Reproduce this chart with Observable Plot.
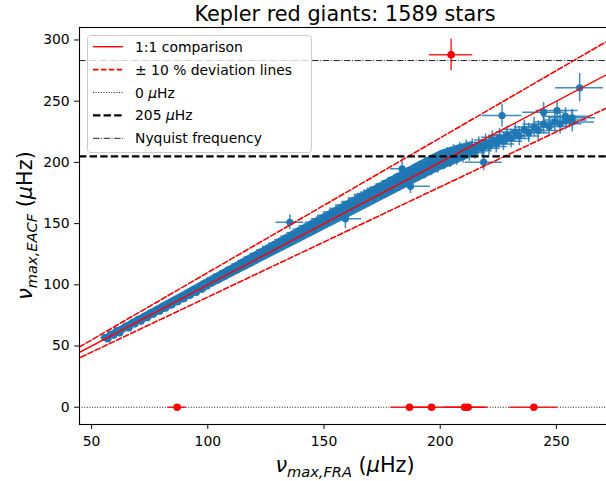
<!DOCTYPE html>
<html>
<head>
<meta charset="utf-8">
<script src="https://cdn.jsdelivr.net/npm/d3@7"></script>
<script src="https://cdn.jsdelivr.net/npm/@observablehq/plot@0.6"></script>
<style>
  html, body { margin: 0; padding: 0; background: #fff; overflow: hidden; }
  #chart { width: 606px; height: 481px; overflow: hidden; }
  #chart svg { max-width: none !important; width: 611px !important; height: 481px !important; overflow: hidden; }
</style>
</head>
<body>
<div id="chart"></div>
<script>
// nu_max from the FRA pipeline (x) and from EACF (y), with 1-sigma errors, in µHz
const starFRA = [
  55.6, 57.0, 58.2, 59.5, 60.8, 62.1, 63.3, 64.7, 66.0, 67.4, 68.6, 70.0, 71.3, 72.7, 74.0, 75.2, 76.6, 78.0, 79.3, 80.5,
  81.9, 83.2, 84.6, 85.8, 87.1, 88.5, 89.8, 91.2, 92.5, 93.7, 95.1, 96.4, 97.8, 99.1,
  100.5, 101.8, 103.2, 104.6, 105.9, 107.3, 108.7, 110.0, 111.4, 112.8, 114.1, 115.5, 116.9, 118.2, 119.6, 121.0,
  122.3, 123.7, 125.1, 126.4, 127.8, 129.2, 130.5, 131.9, 133.3, 134.6, 136.0, 137.4, 138.7, 140.1, 141.5, 142.8,
  144.2, 145.6, 146.9, 148.3, 149.7, 151.0, 152.4, 153.8, 155.1, 156.5, 157.9, 159.2, 160.6, 162.0, 163.3, 164.7,
  166.1, 167.4, 168.8,
  170.2, 171.5, 172.9, 174.3, 175.6, 177.0, 178.4, 179.7, 181.1, 182.5, 183.8, 185.2, 186.6, 187.9, 189.3, 190.7,
  192.0, 193.4, 194.8, 196.1, 197.5, 198.9, 200.2, 201.6, 203.0, 204.3, 205.7, 207.1, 208.4, 209.8, 211.2, 212.5,
  213.8, 215.0, 216.6, 218.1, 219.5, 221.0, 222.4, 224.1, 225.5, 227.2, 228.8, 230.5, 232.3, 234.0, 236.2, 238.1,
  240.4, 242.2, 244.5, 246.9, 249.3, 251.6, 254.0, 256.8,
  135.3, 159.2, 183.6, 187.2, 218.7, 226.6, 244.5, 250.3, 253.9, 256.8, 260.0
];
const starEACF = [
  56.9, 55.8, 59.7, 58.9, 62.6, 60.7, 63.9, 66.3, 64.8, 69.0, 67.9, 71.8, 70.2, 74.1, 73.1, 77.0, 75.9, 79.6, 78.4, 82.3,
  81.0, 84.9, 83.7, 87.5, 86.2, 90.1, 88.9, 92.8, 91.6, 95.6, 94.0, 98.1, 96.9, 100.6,
  102.9, 101.6, 105.8, 104.2, 108.6, 107.0, 111.3, 109.8, 114.2, 112.7, 117.0, 115.4, 119.9, 118.3, 122.8, 121.1,
  125.6, 124.0, 128.5, 126.8, 131.3, 129.7, 134.1, 132.5, 137.0, 135.3, 139.8, 138.2, 142.6, 141.0, 145.5, 143.9,
  148.3, 146.7, 151.1, 149.6, 154.0, 152.4, 156.8, 155.3, 159.7, 158.1, 162.5, 160.9, 165.3, 163.8, 168.1, 166.6,
  171.0, 169.4, 173.8,
  174.6, 171.9, 177.2, 174.8, 179.5, 177.4, 182.3, 180.1, 184.9, 182.6, 187.6, 185.4, 190.1, 188.0, 192.8, 190.9,
  195.3, 193.1, 197.9, 195.7, 200.6, 198.0, 203.2, 200.5, 205.6, 202.7, 207.9, 204.6, 209.8, 206.4, 211.5, 208.0,
  212.3, 209.6, 214.0, 211.5, 216.2, 213.0, 218.4, 215.1, 220.5, 217.3, 222.1, 219.6, 224.8, 221.5, 226.9, 224.2,
  229.0, 226.0, 231.2, 229.4, 233.0, 231.5, 234.6, 233.1,
  151.1, 153.9, 194.8, 180.5, 200.2, 238.3, 241.0, 242.4, 237.7, 236.4, 261.0
];
const starFRAErr = [
  1.6, 1.8, 1.5, 2.0, 1.7, 1.9, 2.1, 1.8, 2.2, 2.0, 1.9, 2.3, 2.1, 2.4, 2.2, 2.6, 2.3, 2.5, 2.7, 2.4,
  2.8, 2.6, 2.9, 2.7, 3.0, 2.8, 3.1, 2.9, 3.2, 3.0, 3.3, 3.1, 3.4, 3.2,
  3.3, 3.0, 3.4, 3.1, 3.5, 3.2, 3.6, 3.3, 3.7, 3.4, 3.8, 3.5, 3.9, 3.6, 4.0, 3.7,
  4.1, 3.8, 4.2, 3.9, 4.3, 4.0, 4.4, 4.1, 4.5, 4.2, 4.6, 4.3, 4.7, 4.4, 4.8, 4.5,
  4.9, 4.6, 5.0, 4.7, 5.1, 4.8, 5.2, 4.9, 5.3, 5.0, 5.4, 5.1, 5.5, 5.2, 5.6, 5.3,
  5.7, 5.4, 5.8,
  5.8, 5.5, 5.9, 5.6, 6.0, 5.7, 6.1, 5.8, 6.2, 5.9, 6.3, 6.0, 6.4, 6.1, 6.5, 6.2,
  6.6, 6.3, 6.7, 6.4, 6.8, 6.5, 6.9, 6.6, 7.0, 6.7, 7.1, 6.8, 7.2, 6.9, 7.3, 7.0,
  7.2, 7.4, 7.3, 7.6, 7.5, 7.8, 7.6, 8.0, 7.8, 8.2, 8.0, 8.4, 8.2, 8.6, 8.4, 8.8,
  8.6, 9.0, 8.8, 9.2, 9.0, 9.4, 9.2, 9.6,
  6.0, 7.0, 5.0, 8.6, 8.0, 8.6, 9.0, 9.0, 10.0, 10.0, 10.3
];
const starEACFErr = [
  1.5, 1.7, 1.6, 1.9, 1.8, 2.0, 1.9, 2.1, 2.2, 2.0, 2.3, 2.1, 2.4, 2.2, 2.5, 2.3, 2.6, 2.4, 2.7, 2.5,
  2.8, 2.6, 2.9, 2.7, 3.0, 2.8, 3.1, 2.9, 3.2, 3.0, 3.3, 3.1, 3.4, 3.2,
  3.0, 3.2, 2.9, 3.3, 3.1, 3.4, 3.2, 3.5, 3.3, 3.6, 3.4, 3.7, 3.5, 3.8, 3.6, 3.9,
  3.7, 4.0, 3.8, 4.1, 3.9, 4.2, 4.0, 4.3, 4.1, 4.4, 4.2, 4.5, 4.3, 4.6, 4.4, 4.7,
  4.5, 4.8, 4.6, 4.9, 4.7, 5.0, 4.8, 5.1, 4.9, 5.2, 5.0, 5.3, 5.1, 5.4, 5.2, 5.5,
  5.3, 5.6, 5.4,
  5.3, 5.6, 5.4, 5.7, 5.5, 5.8, 5.6, 5.9, 5.7, 6.0, 5.8, 6.1, 5.9, 6.2, 6.0, 6.3,
  6.1, 6.4, 6.2, 6.5, 6.3, 6.6, 6.4, 6.7, 6.5, 6.8, 6.6, 6.9, 6.7, 7.0, 6.8, 7.1,
  6.9, 7.1, 7.0, 7.3, 7.1, 7.4, 7.2, 7.5, 7.3, 7.6, 7.4, 7.7, 7.5, 7.8, 7.6, 7.9,
  7.7, 8.0, 7.8, 8.1, 7.9, 8.2, 8.0, 8.3,
  6.0, 8.0, 8.0, 6.0, 7.0, 9.5, 8.0, 8.0, 7.0, 7.0, 11.6
];

// Outline of the densely packed part of the sample, where the error bars merge
const denseFRA  = [55.5, 60, 70, 80, 90, 100, 110, 120, 130, 140, 150, 160, 170, 180, 190, 200, 208, 214];
const denseLow  = [53.6, 57.2, 67.0, 76.6, 86.4, 96.0, 105.8, 115.4, 125.2, 134.8, 144.6, 154.2, 164.0, 173.8, 183.6, 193.2, 199.5, 204.5];
const denseHigh = [58.4, 63.6, 74.2, 84.6, 95.0, 105.6, 116.0, 126.6, 137.0, 147.6, 158.0, 168.6, 179.0, 189.4, 199.8, 209.6, 214.5, 217.0];

// Stars flagged by the comparison (no EACF detection, or above Nyquist)
const flagFRA = [86.8, 186.8, 196.3, 210.5, 212.0, 240.3, 204.7];
const flagEACF = [0, 0, 0, 0, 0, 0, 287.9];
const flagFRAErr = [4.0, 8.0, 7.5, 9.0, 8.6, 10.3, 9.3];
const flagEACFErr = [0, 0, 0, 0, 0, 0, 12.8];

// Reference levels (µHz)
const zeroLevel = 0;
const cutLevel = 205;
const nyquistLevel = 283.2;
const guideFRA = [30, 300];

const xTicks = [50, 100, 150, 200, 250];
const yTicks = [0, 50, 100, 150, 200, 250, 300];

const blue = "#1f77b4";
const red = "#ff0000";

const stars = starFRA.map((x, i) => ({fra: x, eacf: starEACF[i], ex: starFRAErr[i], ey: starEACFErr[i]}));
const dense = denseFRA.map((x, i) => ({fra: x, lo: denseLow[i], hi: denseHigh[i]}));
const flagged = flagFRA.map((x, i) => ({fra: x, eacf: flagEACF[i], ex: flagFRAErr[i], ey: flagEACFErr[i]}));

const font = "DejaVu Sans, Verdana, sans-serif";
const dashRed = "5.5,2.4";

const chart = Plot.plot({
  width: 611,
  height: 481,
  marginLeft: 79,
  marginRight: 0,
  marginTop: 27,
  marginBottom: 57,
  style: {fontFamily: font, fontSize: "13.9px", color: "#000", background: "#fff"},
  x: {domain: [44.8, 273.7]},
  y: {domain: [-14.1, 310.2]},
  marks: [
    // merged error bars of the bulk of the sample
    Plot.areaY(dense, {x: "fra", y1: "lo", y2: "hi", fill: blue, fillOpacity: 0.95, clip: true}),

    // error bars and points of the accepted stars
    Plot.ruleY(stars, {y: "eacf", x1: d => d.fra - d.ex, x2: d => d.fra + d.ex, stroke: blue, strokeWidth: 1.5, strokeOpacity: 0.85, clip: true}),
    Plot.ruleX(stars, {x: "fra", y1: d => d.eacf - d.ey, y2: d => d.eacf + d.ey, stroke: blue, strokeWidth: 1.5, strokeOpacity: 0.85, clip: true}),
    Plot.dot(stars, {x: "fra", y: "eacf", r: 3.6, fill: blue, stroke: "none", clip: true}),

    // 1:1 and ±10 % guide lines
    Plot.line(guideFRA, {x: d => d, y: d => d, stroke: red, strokeWidth: 1.4, clip: true}),
    Plot.line(guideFRA, {x: d => d, y: d => d * 1.1, stroke: red, strokeWidth: 1.6, strokeDasharray: dashRed, clip: true}),
    Plot.line(guideFRA, {x: d => d, y: d => d * 0.9, stroke: red, strokeWidth: 1.6, strokeDasharray: dashRed, clip: true}),

    // horizontal reference levels
    Plot.ruleY([zeroLevel], {stroke: "#000", strokeWidth: 0.9, strokeDasharray: "1,1.6"}),
    Plot.ruleY([cutLevel], {stroke: "#000", strokeWidth: 2.3, strokeDasharray: "7.4,3.2"}),
    Plot.ruleY([nyquistLevel], {stroke: "#222", strokeWidth: 1, strokeDasharray: "6.4,1.6,1,1.6"}),

    // flagged stars
    Plot.ruleY(flagged, {y: "eacf", x1: d => d.fra - d.ex, x2: d => d.fra + d.ex, stroke: red, strokeWidth: 1.5, strokeOpacity: 0.85, clip: true}),
    Plot.ruleX(flagged, {x: "fra", y1: d => d.eacf - d.ey, y2: d => d.eacf + d.ey, stroke: red, strokeWidth: 1.5, strokeOpacity: 0.85, clip: true}),
    Plot.dot(flagged, {x: "fra", y: "eacf", r: 3.8, fill: red, stroke: "none", clip: true}),

    Plot.frame({stroke: "#000", strokeWidth: 1.1}),
    Plot.axisX({ticks: xTicks, tickSize: 4.9, tickPadding: 7, label: null, fontSize: "13.9px"}),
    Plot.axisY({ticks: yTicks, tickSize: 4.9, tickPadding: 4.9, label: null, fontSize: "13.9px"})
  ]
});

document.getElementById("chart").appendChild(chart);

const svg = d3.select(chart);

// title
svg.append("text")
  .attr("x", 345).attr("y", 21)
  .attr("text-anchor", "middle")
  .style("font-family", font).style("font-size", "20.8px").attr("fill", "#000")
  .text("Kepler red giants: 1589 stars");

// axis labels with math-style subscripts
function mathLabel(sel, sub) {
  sel.style("font-family", font).style("font-size", "20.8px").attr("fill", "#000");
  sel.append("tspan").style("font-style", "italic").text("ν");
  sel.append("tspan").style("font-style", "italic").style("font-size", "14.6px").attr("dy", 5).text(sub);
  sel.append("tspan").attr("dy", -5).text(" (");
  sel.append("tspan").style("font-style", "italic").text("μ");
  sel.append("tspan").text("Hz)");
}
mathLabel(svg.append("text").attr("x", 345).attr("y", 472).attr("text-anchor", "middle"), "max,FRA");
mathLabel(svg.append("text").attr("transform", "translate(32,225.5) rotate(-90)").attr("text-anchor", "middle"), "max,EACF");

// legend
const legendItems = [
  {label: "1:1 comparison", stroke: red, width: 1.4, dash: null},
  {label: "± 10 % deviation lines", stroke: red, width: 1.6, dash: dashRed},
  {label: ["0 ", "μ", "Hz"], stroke: "#000", width: 0.9, dash: "1,1.6"},
  {label: ["205 ", "μ", "Hz"], stroke: "#000", width: 2.3, dash: "7.4,3.2"},
  {label: "Nyquist frequency", stroke: "#222", width: 1, dash: "6.4,1.6,1,1.6"}
];
const lg = svg.append("g").attr("text-anchor", "start");
lg.append("rect")
  .attr("x", 87.5).attr("y", 35.5).attr("width", 224).attr("height", 117).attr("rx", 3)
  .attr("fill", "#fff").attr("fill-opacity", 0.8).attr("stroke", "#ccc").attr("stroke-width", 1);
legendItems.forEach((it, i) => {
  const cy = 46.7 + i * 22.9;
  lg.append("line")
    .attr("x1", 93).attr("x2", 123).attr("y1", cy).attr("y2", cy)
    .attr("stroke", it.stroke).attr("stroke-width", it.width)
    .attr("stroke-dasharray", it.dash);
  const t = lg.append("text").attr("x", 135).attr("y", cy + 5).attr("text-anchor", "start")
    .style("font-family", font).style("font-size", "13.9px").attr("fill", "#000");
  if (Array.isArray(it.label)) {
    t.append("tspan").text(it.label[0]);
    t.append("tspan").style("font-style", "italic").text(it.label[1]);
    t.append("tspan").text(it.label[2]);
  } else {
    t.text(it.label);
  }
});
</script>
</body>
</html>
